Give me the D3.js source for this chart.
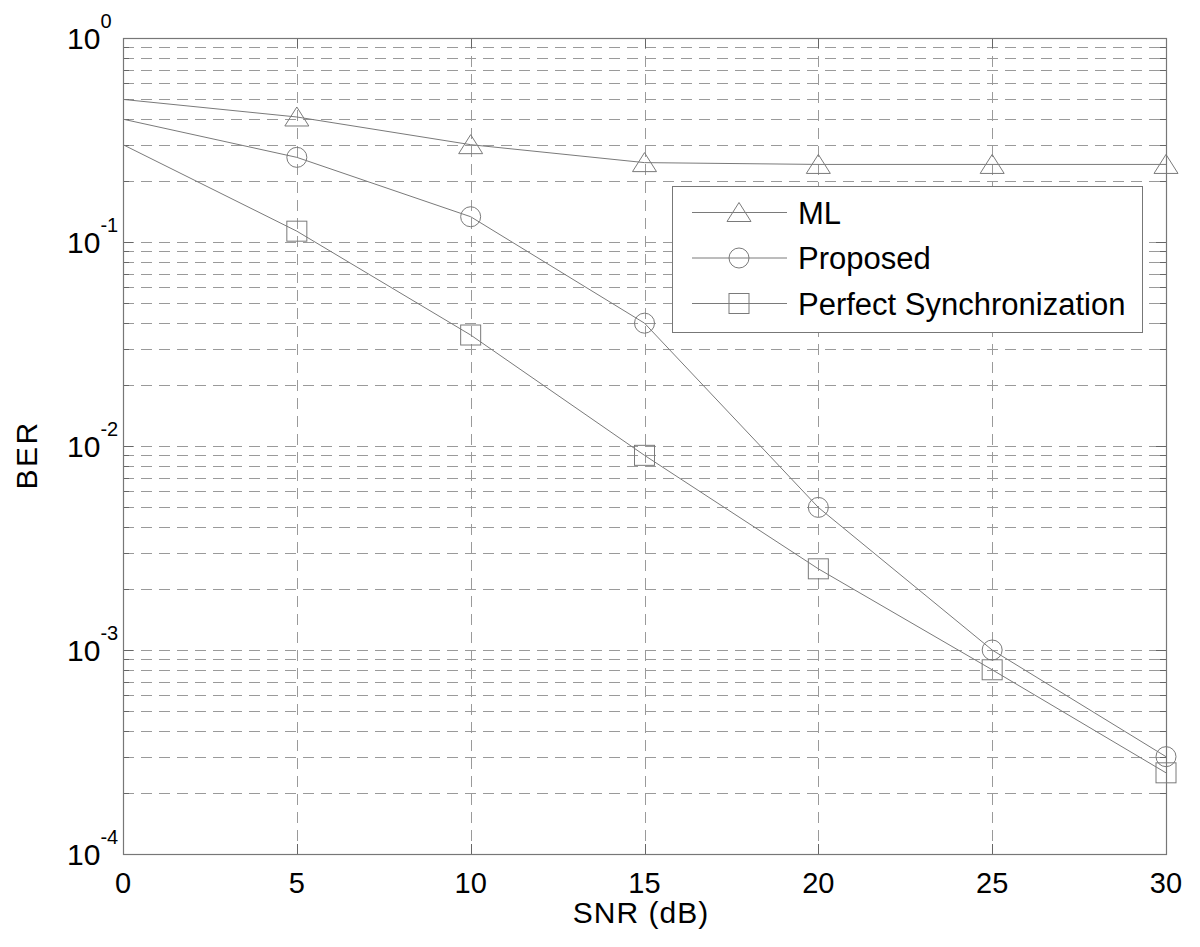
<!DOCTYPE html>
<html>
<head>
<meta charset="utf-8">
<script src="https://cdn.jsdelivr.net/npm/d3@7"></script>
<style>
  body { margin: 0; background: #fff; }
  svg { font-family: "Liberation Sans", Arial, sans-serif; }
</style>
</head>
<body>
<svg id="chart" width="1200" height="947"></svg>
<script>
// data
const snr = [0, 5, 10, 15, 20, 25, 30];
const berML = [0.5, 0.41, 0.3, 0.245, 0.24, 0.24, 0.24];
const berProposed = [0.4, 0.26, 0.133, 0.04, 0.005, 0.001, 0.0003];
const berPerfect = [0.3, 0.113, 0.035, 0.009, 0.0025, 0.0008, 0.00025];
const seriesNames = ["ML", "Proposed", "Perfect Synchronization"];
const seriesMarkers = ["triangle", "circle", "square"];
const xTicks = [0, 5, 10, 15, 20, 25, 30];
const yDecades = [0, -1, -2, -3, -4];

const series = [berML, berProposed, berPerfect].map((vals, i) => ({
    name: seriesNames[i],
    marker: seriesMarkers[i],
    points: vals.map((v, j) => ({ x: snr[j], y: v }))
}));

const svg = d3.select("#chart");
const pLeft = 123, pRight = 1166, pTop = 38, pBottom = 854;

let x = d3.scaleLinear().domain([0, 30]).range([pLeft, pRight]);
let y = d3.scaleLog().domain([1e-4, 1]).range([pBottom, pTop]);

const gridColor = "#9a9a9a";
const lineColor = "#7a7a7a";

// minor + major horizontal grid
let yGrid = [];
for (let d = -4; d < 0; d++) {
    for (let m = 1; m <= 9; m++) yGrid.push(m * Math.pow(10, d));
}
yGrid = yGrid.filter(v => v > 1e-4);

svg.append("g").selectAll("line")
    .data(yGrid)
    .join("line")
    .attr("x1", pLeft).attr("x2", pRight)
    .attr("y1", d => Math.round(y(d)) + 0.5).attr("y2", d => Math.round(y(d)) + 0.5)
    .attr("stroke", gridColor)
    .attr("stroke-width", 1)
    .attr("stroke-dasharray", "11,7");

svg.append("g").selectAll("line")
    .data(xTicks.slice(1, -1))
    .join("line")
    .attr("x1", d => Math.round(x(d)) + 0.5).attr("x2", d => Math.round(x(d)) + 0.5)
    .attr("y1", pTop).attr("y2", pBottom)
    .attr("stroke", gridColor)
    .attr("stroke-width", 1)
    .attr("stroke-dasharray", "11,7");

// inward ticks
let tickG = svg.append("g").attr("stroke", "#666").attr("stroke-width", 1);
yGrid.concat([1e-4, 1]).forEach(v => {
    let len = Number.isInteger(Math.log10(v)) ? 10 : 6;
    let yy = Math.round(y(v)) + 0.5;
    tickG.append("line").attr("x1", pLeft).attr("x2", pLeft + len).attr("y1", yy).attr("y2", yy);
    tickG.append("line").attr("x1", pRight).attr("x2", pRight - len).attr("y1", yy).attr("y2", yy);
});
xTicks.forEach(t => {
    let xx = Math.round(x(t)) + 0.5;
    tickG.append("line").attr("x1", xx).attr("x2", xx).attr("y1", pBottom).attr("y2", pBottom - 10);
    tickG.append("line").attr("x1", xx).attr("x2", xx).attr("y1", pTop).attr("y2", pTop + 10);
});

// frame
svg.append("rect")
    .attr("x", pLeft + 0.5).attr("y", pTop + 0.5)
    .attr("width", pRight - pLeft).attr("height", pBottom - pTop)
    .attr("fill", "none")
    .attr("stroke", "#777")
    .attr("stroke-width", 1.2);

// x tick labels
svg.append("g").selectAll("text")
    .data(xTicks)
    .join("text")
    .attr("x", d => x(d))
    .attr("y", 893)
    .attr("text-anchor", "middle")
    .attr("font-size", 29)
    .attr("fill", "#000")
    .text(d => d);

// y tick labels: 10 with superscript
yDecades.forEach(e => {
    let t = svg.append("text")
        .attr("x", 67)
        .attr("y", y(Math.pow(10, e)) + 10.5)
        .attr("font-size", 30)
        .attr("fill", "#000");
    t.append("tspan").text("10");
    t.append("tspan").attr("dy", -21).attr("font-size", 20).text(e);
});

// axis titles
svg.append("text")
    .attr("x", 641)
    .attr("y", 923)
    .attr("text-anchor", "middle")
    .attr("font-size", 30)
    .attr("letter-spacing", 1)
    .text("SNR (dB)");

svg.append("text")
    .attr("transform", "translate(37,455) rotate(-90)")
    .attr("text-anchor", "middle")
    .attr("font-size", 30)
    .attr("letter-spacing", 2.5)
    .text("BER");

// markers
function drawMarker(g, type, cx, cy) {
    if (type === "triangle") {
        g.append("path")
            .attr("d", `M${cx},${cy - 10}L${cx + 12},${cy + 9}L${cx - 12},${cy + 9}Z`)
            .attr("fill", "none").attr("stroke", lineColor);
    } else if (type === "circle") {
        g.append("circle").attr("cx", cx).attr("cy", cy).attr("r", 10)
            .attr("fill", "none").attr("stroke", lineColor);
    } else {
        g.append("rect").attr("x", cx - 10).attr("y", cy - 10)
            .attr("width", 20).attr("height", 20)
            .attr("fill", "none").attr("stroke", lineColor);
    }
}

let line = d3.line().x(d => x(d.x)).y(d => y(d.y));

series.forEach(s => {
    let g = svg.append("g");
    g.append("path")
        .attr("d", line(s.points))
        .attr("fill", "none")
        .attr("stroke", lineColor)
        .attr("stroke-width", 1);
    s.points.slice(1).forEach(p => drawMarker(g, s.marker, x(p.x), y(p.y)));
});

// legend
let lg = svg.append("g").attr("transform", "translate(672,186)");
lg.append("rect")
    .attr("x", 0.5).attr("y", 0.5)
    .attr("width", 470).attr("height", 146)
    .attr("fill", "#fff")
    .attr("stroke", "#777");

series.forEach((s, i) => {
    let yy = 26.5 + i * 45.5;
    lg.append("line")
        .attr("x1", 20).attr("x2", 115)
        .attr("y1", yy).attr("y2", yy)
        .attr("stroke", lineColor);
    drawMarker(lg, s.marker, 67, yy);
    lg.append("text")
        .attr("x", 126).attr("y", yy + 11)
        .attr("font-size", 31)
        .attr("fill", "#000")
        .text(s.name);
});
</script>
</body>
</html>
